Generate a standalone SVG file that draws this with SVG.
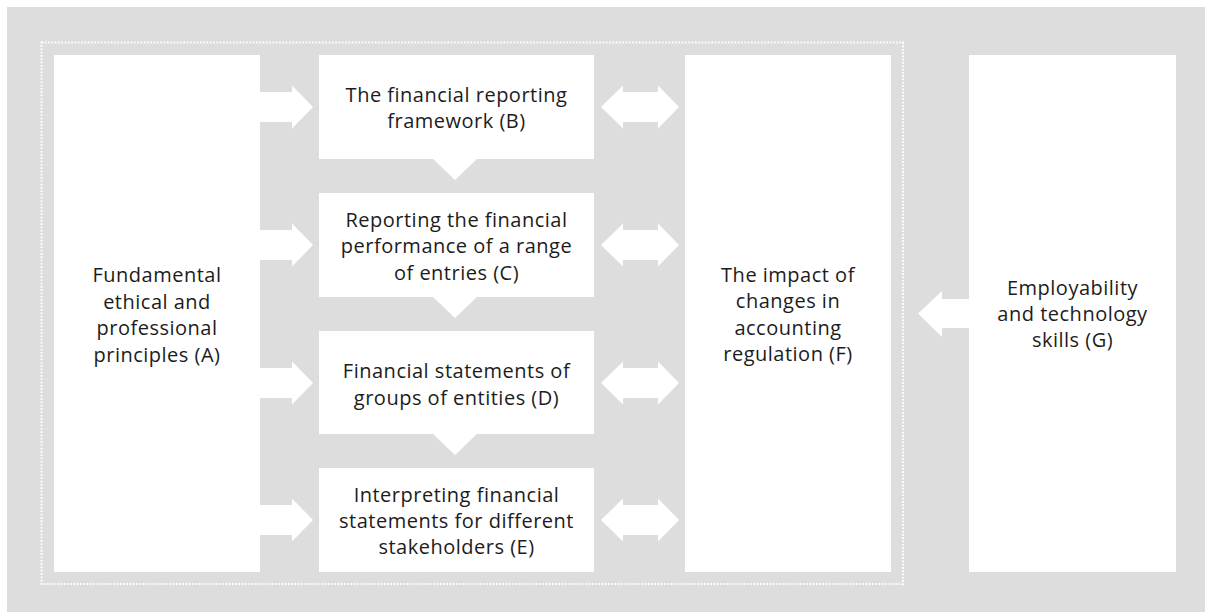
<svg xmlns="http://www.w3.org/2000/svg" width="1205" height="612" viewBox="0 0 1205 612">
<style>
.bg{fill:#dcdddc}
.box{fill:#ffffff}
.arr{fill:#ffffff}
.t{font-family:"Open Sans","Liberation Sans",sans-serif;font-size:20px;letter-spacing:0.5px;fill:#1c1c1c;text-anchor:middle}
.dot{fill:none;stroke:#ffffff;stroke-width:2;stroke-dasharray:1.7 1.6}
</style>
<defs>
<path id="rarr" d="M0,-15 H32 V-21.5 L53,0 L32,21.5 V15 H0 Z"/>
<path id="darr" d="M0,0 L22,-21.5 V-15 H57 V-21.5 L78,0 L57,21.5 V15 H22 V21.5 Z"/>
<path id="tri" d="M-23,0 H23 L0,22 Z"/>
</defs>
<rect class="bg" x="7" y="7" width="1198" height="605"/>
<rect class="dot" x="41.5" y="42.5" width="861.5" height="541.5"/>
<g id="connectors">
<use href="#rarr" class="arr" x="260" y="107"/>
<use href="#rarr" class="arr" x="260" y="245"/>
<use href="#rarr" class="arr" x="260" y="383"/>
<use href="#rarr" class="arr" x="260" y="520"/>
<use href="#darr" class="arr" x="601" y="107"/>
<use href="#darr" class="arr" x="601" y="245"/>
<use href="#darr" class="arr" x="601" y="383"/>
<use href="#darr" class="arr" x="601" y="520"/>
<use href="#tri" class="arr" x="455" y="158"/>
<use href="#tri" class="arr" x="455" y="296"/>
<use href="#tri" class="arr" x="455" y="433"/>
<path class="arr" d="M969,299 H942 V291 L918,313.5 L942,337 V328 H969 Z"/>
</g>
<g id="nodeA">
<rect class="box" x="54" y="55" width="206" height="517"/>
<text class="t" x="157" y="282">Fundamental</text>
<text class="t" x="157" y="308.5">ethical and</text>
<text class="t" x="157" y="335">professional</text>
<text class="t" x="157" y="361.5">principles (A)</text>
</g>
<g id="nodeB">
<rect class="box" x="319" y="55" width="275" height="104"/>
<text class="t" x="456.5" y="102">The financial reporting</text>
<text class="t" x="456.5" y="128">framework (B)</text>
</g>
<g id="nodeC">
<rect class="box" x="319" y="193" width="275" height="104"/>
<text class="t" x="456.5" y="227">Reporting the financial</text>
<text class="t" x="456.5" y="253">performance of a range</text>
<text class="t" x="456.5" y="280">of entries (C)</text>
</g>
<g id="nodeD">
<rect class="box" x="319" y="331" width="275" height="103"/>
<text class="t" x="456.5" y="378">Financial statements of</text>
<text class="t" x="456.5" y="405">groups of entities (D)</text>
</g>
<g id="nodeE">
<rect class="box" x="319" y="468" width="275" height="104"/>
<text class="t" x="456.5" y="502">Interpreting financial</text>
<text class="t" x="456.5" y="528">statements for different</text>
<text class="t" x="456.5" y="554">stakeholders (E)</text>
</g>
<g id="nodeF">
<rect class="box" x="685" y="55" width="206" height="517"/>
<text class="t" x="788" y="282">The impact of</text>
<text class="t" x="788" y="308">changes in</text>
<text class="t" x="788" y="335">accounting</text>
<text class="t" x="788" y="361">regulation (F)</text>
</g>
<g id="nodeG">
<rect class="box" x="969" y="55" width="207" height="517"/>
<text class="t" x="1072.5" y="295">Employability</text>
<text class="t" x="1072.5" y="321">and technology</text>
<text class="t" x="1072.5" y="347">skills (G)</text>
</g>
</svg>
